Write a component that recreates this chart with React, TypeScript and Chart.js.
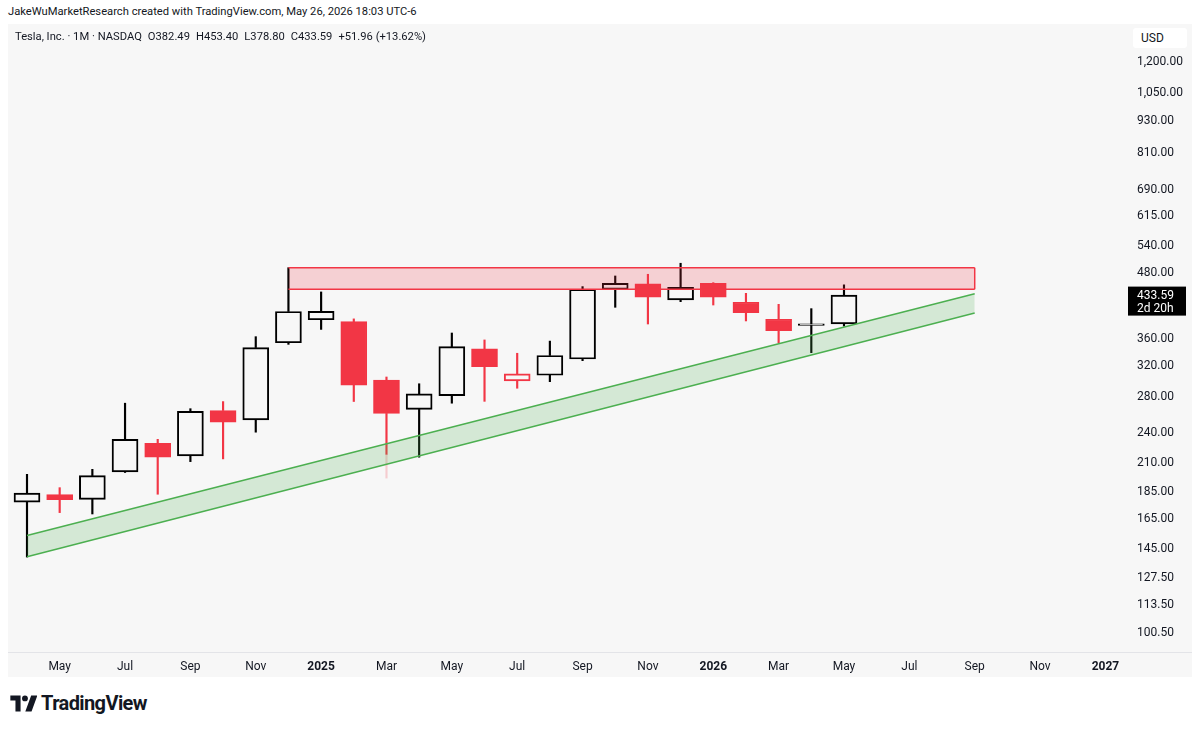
import React, { useEffect, useRef } from "react";
import { Chart, registerables } from "chart.js";

Chart.register(...registerables);

// ---- Data (monthly TSLA candles, Apr 2024 .. May 2026) ----
const months = [
  "Apr 2024", "May 2024", "Jun 2024", "Jul 2024", "Aug 2024", "Sep 2024", "Oct 2024", "Nov 2024", "Dec 2024",
  "Jan 2025", "Feb 2025", "Mar 2025", "Apr 2025", "May 2025", "Jun 2025", "Jul 2025", "Aug 2025", "Sep 2025",
  "Oct 2025", "Nov 2025", "Dec 2025", "Jan 2026", "Feb 2026", "Mar 2026", "Apr 2026", "May 2026",
];
const opens = [
  176.2, 182.1, 178.4, 201.0, 227.6, 215.5, 262.5, 252.0, 352.4,
  389.5, 386.3, 299.8, 263.8, 280.0, 343.1, 298.5, 306.0, 328.4,
  444.7, 455.2, 424.5, 456.5, 420.4, 390.4, 380.0, 382.49,
];
const highs = [
  198.9, 187.7, 203.3, 271.0, 231.6, 264.6, 272.9, 361.9, 488.5,
  439.6, 391.0, 303.7, 294.9, 367.7, 356.8, 336.7, 355.0, 449.9,
  471.2, 474.7, 498.0, 457.7, 437.0, 416.6, 408.8, 453.40,
];
const lows = [
  138.8, 168.4, 167.4, 200.5, 182.4, 210.2, 212.7, 238.9, 350.0,
  373.5, 273.0, 217.0, 214.3, 271.0, 273.2, 289.2, 297.6, 326.0,
  411.2, 382.4, 421.4, 415.3, 387.5, 352.6, 337.6, 378.80,
];
const closes = [
  183.3, 178.2, 197.8, 231.6, 214.2, 261.6, 249.5, 345.2, 403.8,
  404.2, 293.0, 259.2, 282.2, 346.5, 317.7, 307.9, 333.5, 444.7,
  456.5, 429.5, 448.6, 429.5, 401.6, 371.5, 382.49, 433.59,
];
// faint extension of the Mar 2025 lower wick
const faintWickIndex = [11];
const faintWickRange = [[195.7, 217.0]];

// Drawings
const resistanceX = [8, 29];
const resistanceTop = 488.5;
const resistanceBottom = 444.7;
const channelX = [0, 29];
const channelUpper = [152.4, 436.3];
const channelLower = [139.0, 401.2];

// Axes
const xTickIndex = [1, 3, 5, 7, 9, 11, 13, 15, 17, 19, 21, 23, 25, 27, 29, 31, 33];
const xTickLabels = ["May", "Jul", "Sep", "Nov", "2025", "Mar", "May", "Jul", "Sep", "Nov", "2026", "Mar", "May", "Jul", "Sep", "Nov", "2027"];
const yTickValues = [100.5, 113.5, 127.5, 145, 165, 185, 210, 240, 280, 320, 360, 480, 540, 615, 690, 810, 930, 1050, 1200];

const X_MIN = -0.5814;
const X_MAX = 33.66;
const Y_MIN = 91.86;
const Y_MAX = 1409.4;

const FONT = "Roboto, 'Liberation Sans', Arial, sans-serif";
const TEXT = "#131722";
const BLACK = "#000000";
const RED = "#f23645";
const GREEN = "#4caf50";

export default function App() {
  const ref = useRef<HTMLCanvasElement | null>(null);

  useEffect(() => {
    const canvas = ref.current;
    if (!canvas) return;

    const colors = closes.map((c, i) => (i === 0 || c >= closes[i - 1] ? BLACK : RED));
    const filled = closes.map((c, i) => c < opens[i]);
    const idx = closes.map((_, i) => i);

    const upperWicks = idx.map((i) => ({ x: i, y: [Math.max(opens[i], closes[i]), highs[i]] }));
    const lowerWicks = idx.map((i) => ({ x: i, y: [lows[i], Math.min(opens[i], closes[i])] }));
    const bodies = idx.map((i) => ({ x: i, y: [opens[i], closes[i]] }));

    const lastClose = closes[closes.length - 1];

    const priceLabel = {
      id: "priceLabel",
      afterDraw(chart: any) {
        const { ctx, chartArea, scales } = chart;
        const yy = scales.y.getPixelForValue(lastClose);
        ctx.save();
        ctx.fillStyle = "#000";
        ctx.fillRect(chartArea.right + 1, yy - 8.5, 58, 29);
        ctx.fillStyle = "#fff";
        ctx.font = `12px ${FONT}`;
        ctx.textBaseline = "middle";
        ctx.textAlign = "left";
        ctx.fillText(lastClose.toFixed(2), chartArea.right + 10, yy + 1);
        ctx.fillText("2d 20h", chartArea.right + 10, yy + 14);
        ctx.restore();
      },
    };

    const lineDs = (pts: { x: number; y: number }[], color: string, fill: any, bg?: string) =>
      ({
        type: "line",
        data: pts,
        borderColor: color,
        borderWidth: 1.5,
        pointRadius: 0,
        fill,
        backgroundColor: bg || "rgba(0,0,0,0)",
        order: 1,
      } as any);

    const chart = new Chart(canvas, {
      type: "bar",
      data: {
        datasets: [
          lineDs(
            [
              { x: channelX[0], y: channelUpper[0] },
              { x: channelX[1], y: channelUpper[1] },
            ],
            GREEN,
            false
          ),
          lineDs(
            [
              { x: channelX[0], y: channelLower[0] },
              { x: channelX[1], y: channelLower[1] },
            ],
            GREEN,
            "-1",
            "rgba(76,175,80,0.2)"
          ),
          lineDs(
            [
              { x: resistanceX[0], y: resistanceTop },
              { x: resistanceX[1], y: resistanceTop },
            ],
            RED,
            false
          ),
          lineDs(
            [
              { x: resistanceX[0], y: resistanceBottom },
              { x: resistanceX[1], y: resistanceBottom },
            ],
            RED,
            "-1",
            "rgba(242,54,69,0.2)"
          ),
          lineDs(
            [
              { x: resistanceX[1], y: resistanceBottom },
              { x: resistanceX[1], y: resistanceTop },
            ],
            RED,
            false
          ),
          {
            type: "bar",
            data: faintWickIndex.map((x, k) => ({ x, y: faintWickRange[k] })),
            backgroundColor: "rgba(242,54,69,0.22)",
            barThickness: 1.5,
            grouped: false,
            order: 4,
          } as any,
          {
            type: "bar",
            data: upperWicks,
            backgroundColor: colors,
            barThickness: 1.5,
            grouped: false,
            order: 4,
          } as any,
          {
            type: "bar",
            data: lowerWicks,
            backgroundColor: colors,
            barThickness: 1.5,
            grouped: false,
            order: 4,
          } as any,
          {
            type: "bar",
            data: bodies,
            backgroundColor: colors.map((c, i) => (filled[i] ? c : "rgba(0,0,0,0)")),
            borderColor: colors,
            borderWidth: 1.3,
            borderSkipped: false,
            barThickness: 26,
            grouped: false,
            order: 3,
          } as any,
        ],
      },
      options: {
        responsive: false,
        animation: false,
        events: [],
        layout: { padding: 0 },
        plugins: { legend: { display: false }, tooltip: { enabled: false } },
        scales: {
          x: {
            type: "linear",
            min: X_MIN,
            max: X_MAX,
            bounds: "data",
            offset: false,
            grid: { display: false, drawTicks: false },
            border: { display: false },
            ticks: {
              autoSkip: false,
              maxRotation: 0,
              minRotation: 0,
              padding: 8,
              color: TEXT,
              font: (ctx: any) => {
                const v = ctx.tick ? ctx.tick.value : 0;
                const k = xTickIndex.indexOf(v);
                const lab = k >= 0 ? xTickLabels[k] : "";
                return { family: FONT, size: 12, weight: /^\d{4}$/.test(lab) ? "bold" : "normal" };
              },
              callback: (v: any) => {
                const k = xTickIndex.indexOf(Number(v));
                return k >= 0 ? xTickLabels[k] : "";
              },
            },
            afterBuildTicks: (s: any) => {
              s.ticks = xTickIndex.map((v) => ({ value: v }));
            },
            afterFit: (s: any) => {
              s.height = 25;
              s.paddingLeft = 0;
              s.paddingRight = 0;
            },
          },
          y: {
            type: "logarithmic",
            position: "right",
            min: Y_MIN,
            max: Y_MAX,
            bounds: "data",
            grid: { display: false, drawTicks: false },
            border: { display: false },
            ticks: {
              padding: 10,
              labelOffset: 1.5,
              color: TEXT,
              font: { family: FONT, size: 12 },
              callback: (v: any) =>
                Number(v).toLocaleString("en-US", { minimumFractionDigits: 2, maximumFractionDigits: 2 }),
            },
            afterBuildTicks: (s: any) => {
              s.ticks = yTickValues.map((v) => ({ value: v }));
            },
            afterFit: (s: any) => {
              s.width = 65;
              s.paddingTop = 0;
              s.paddingBottom = 0;
            },
          },
        },
      } as any,
      plugins: [priceLabel],
    });

    return () => chart.destroy();
  }, []);

  return (
    <div
      style={{
        position: "absolute",
        left: 0,
        top: 0,
        width: 1200,
        height: 729,
        background: "#ffffff",
        fontFamily: FONT,
        color: TEXT,
        overflow: "hidden",
      }}
    >
      <div style={{ position: "absolute", left: 8, top: 4, fontSize: 11.2, lineHeight: "16px", whiteSpace: "nowrap" }}>
        JakeWuMarketResearch created with TradingView.com, May 26, 2026 18:03 UTC-6
      </div>
      <div style={{ position: "absolute", left: 8, top: 24, width: 1184, height: 653, background: "#f7f7f7" }} />
      <canvas
        ref={ref}
        width={1184}
        height={653}
        style={{ position: "absolute", left: 8, top: 24, width: 1184, height: 653 }}
      />
      <div style={{ position: "absolute", left: 8, top: 652, width: 1184, height: 1, background: "#e3e4e8" }} />
      <div
        style={{
          position: "absolute",
          left: 15,
          top: 29,
          fontSize: 11.2,
          lineHeight: "16px",
          whiteSpace: "nowrap",
          display: "flex",
          gap: 6,
        }}
      >
        <span>Tesla, Inc. · 1M · NASDAQ</span>
        <span>O382.49</span>
        <span>H453.40</span>
        <span>L378.80</span>
        <span>C433.59</span>
        <span>+51.96 (+13.62%)</span>
      </div>
      <div
        style={{
          position: "absolute",
          left: 1133,
          top: 28,
          width: 54,
          height: 20,
          background: "#ffffff",
          borderRadius: 3,
          fontSize: 12,
          lineHeight: "20px",
          paddingLeft: 8,
          boxSizing: "border-box",
        }}
      >
        USD
      </div>
      <div style={{ position: "absolute", left: 10, top: 693, display: "flex", alignItems: "center" }}>
        <svg width="27" height="19" viewBox="0 0 36 26">
          <path d="M14 24H7V9H0V2h14v22zM29 24h-8.5l8-22H37L29 24z" fill={TEXT} />
          <circle cx="20" cy="6" r="4" fill={TEXT} />
        </svg>
        <span style={{ marginLeft: 4, fontSize: 20, fontWeight: 700, letterSpacing: -0.6, lineHeight: "20px" }}>
          TradingView
        </span>
      </div>
    </div>
  );
}
